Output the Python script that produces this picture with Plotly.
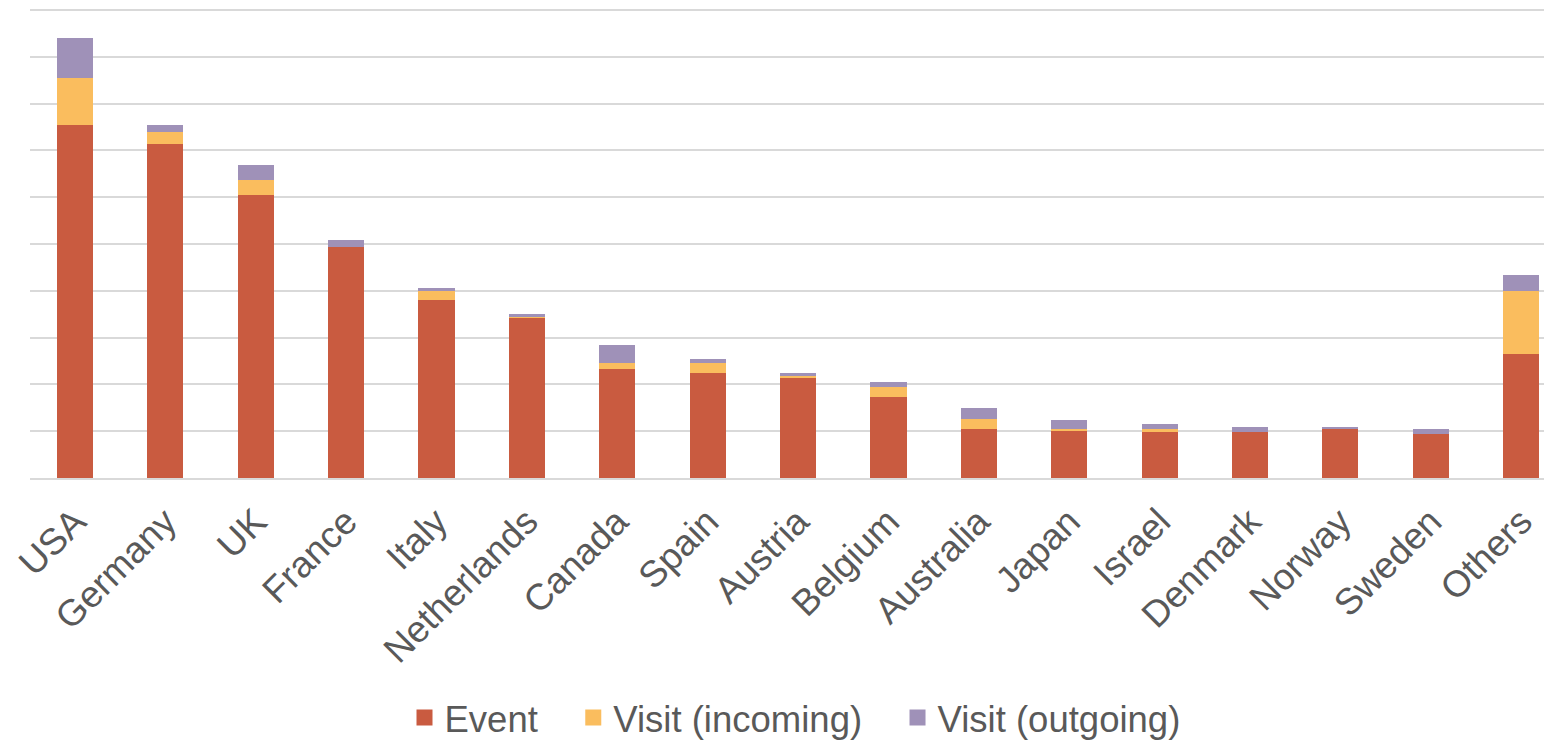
import plotly.graph_objects as go

countries = ["USA", "Germany", "UK", "France", "Italy", "Netherlands", "Canada", "Spain",
             "Austria", "Belgium", "Australia", "Japan", "Israel", "Denmark", "Norway",
             "Sweden", "Others"]
event = [75.4, 71.4, 60.5, 49.4, 38.0, 34.2, 23.3, 22.4, 21.4, 17.3, 10.5, 10.0, 10.0, 9.8, 10.5, 9.4, 26.5]
visit_in = [10.1, 2.5, 3.2, 0.0, 2.0, 0.4, 1.3, 2.2, 0.6, 2.1, 2.1, 0.5, 0.4, 0.0, 0.0, 0.0, 13.5]
visit_out = [8.5, 1.5, 3.2, 1.5, 0.6, 0.4, 3.8, 0.8, 0.4, 1.1, 2.4, 1.9, 1.1, 1.1, 0.4, 1.1, 3.4]

series = [("Event", event, "#C95B40"),
          ("Visit (incoming)", visit_in, "#FABD5E"),
          ("Visit (outgoing)", visit_out, "#9F91B8")]

fig = go.Figure()
for name, vals, col in series:
    fig.add_trace(go.Bar(x=countries, y=vals, name=name, showlegend=False,
                         marker=dict(color=col, line=dict(width=0))))
# legend entries with larger square swatches
pad = "\u00a0\u00a0\u00a0"
for i, (name, vals, col) in enumerate(series):
    label = name + (pad if i < len(series) - 1 else "")
    fig.add_trace(go.Scatter(x=[None], y=[None], mode="markers", name=label,
                             marker=dict(symbol="square", size=19, color=col)))

font = "Liberation Sans, Arial, sans-serif"
fig.update_layout(
    barmode="stack",
    bargap=0.6,
    width=1552, height=742,
    paper_bgcolor="white", plot_bgcolor="white",
    margin=dict(l=22, r=0, t=0, b=272, autoexpand=False),
    font=dict(family=font, size=36, color="#595959"),
    showlegend=True,
    legend=dict(orientation="h", x=0.5, xanchor="center", y=-0.51, yanchor="middle",
                font=dict(size=36.5, color="#595959"), traceorder="normal",
                itemsizing="trace", itemwidth=30),
    xaxis=dict(range=[-0.498, 16.43], tickangle=-45, showgrid=False, ticks="",
               showline=True, linecolor="#D9D9D9", linewidth=2, ticklabelstandoff=5,
               tickfont=dict(size=37, color="#595959")),
    yaxis=dict(range=[0, 100.43], dtick=10, showgrid=True, gridcolor="#D9D9D9", gridwidth=2,
               showticklabels=False, zeroline=False, ticks=""),
)
fig.write_html("out.html")
